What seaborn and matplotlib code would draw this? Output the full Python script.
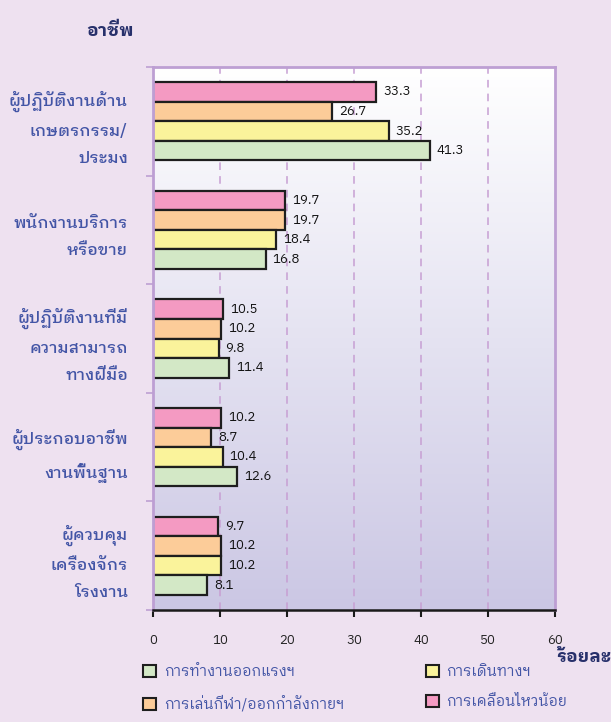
import numpy as np
import pandas as pd
import seaborn as sns
import matplotlib
matplotlib.use("Agg")
import matplotlib.pyplot as plt
from matplotlib.patches import Patch
from matplotlib.colors import LinearSegmentedColormap

# data (percent)
occupations = ['ผู้ปฏิบัติงานด้าน\nเกษตรกรรม/\nประมง',
               'พนักงานบริการ\nหรือขาย',
               'ผู้ปฏิบัติงานที่มี\nความสามารถ\nทางฝีมือ',
               'ผู้ประกอบอาชีพ\nงานพื้นฐาน',
               'ผู้ควบคุม\nเครื่องจักร\nโรงงาน']
activities = ['การเคลื่อนไหวน้อย', 'การเล่นกีฬา/ออกกำลังกายฯ', 'การเดินทางฯ', 'การทำงานออกแรงฯ']
sedentary = [33.3, 19.7, 10.5, 10.2, 9.7]
sport = [26.7, 19.7, 10.2, 8.7, 10.2]
travel = [35.2, 18.4, 9.8, 10.4, 10.2]
work = [41.3, 16.8, 11.4, 12.6, 8.1]
colors = ['#F49AC2', '#FCCC99', '#FAF39B', '#D3E8C6']

rows = []
for act, vals in zip(activities, [sedentary, sport, travel, work]):
    for occ, v in zip(occupations, vals):
        rows.append({'occ': occ, 'act': act, 'pct': v})
df = pd.DataFrame(rows)

sns.set_style('white')
thai = ['IBM Plex Sans Thai Looped', 'DejaVu Sans']
plt.rcParams['font.family'] = thai

bg = '#EEE1F0'
blue = '#4355A6'
navy = '#27306B'
purple = '#BD9FD3'

fig = plt.figure(figsize=(6.11, 7.22), dpi=100, facecolor=bg)
ax = fig.add_axes([0.2504, 0.1551, 0.658, 0.7521])

# gradient plot background
cmap = LinearSegmentedColormap.from_list('g', ['#FFFFFF', '#CBC7E4'])
ax.imshow(np.linspace(0, 1, 256).reshape(-1, 1), cmap=cmap, aspect='auto',
          extent=(0, 1, 0, 1), transform=ax.transAxes, zorder=0)

sns.barplot(data=df, x='pct', y='occ', hue='act', hue_order=activities,
            palette=colors, saturation=1, orient='h', width=0.72, errorbar=None,
            edgecolor='#1E1E1E', linewidth=1.6, legend=False, ax=ax, zorder=2)

for c in ax.containers:
    ax.bar_label(c, fmt='%.1f', padding=5, fontsize=9.5, color='#111111')

ax.set_xlim(0, 60)
ax.set_ylim(4.5, -0.5)
ax.set_xticks(range(0, 61, 10))
ax.set_xlabel('')
ax.set_ylabel('')

# dashed vertical grid
for x in range(10, 60, 10):
    ax.axvline(x, color='#C79FD3', lw=1.1, ls=(0, (5, 4)), zorder=1)

for s in ['top', 'left', 'right']:
    ax.spines[s].set_color(purple)
    ax.spines[s].set_linewidth(2)
ax.spines['bottom'].set_color('#1A1A1A')
ax.spines['bottom'].set_linewidth(1.8)

ax.tick_params(axis='x', bottom=True, direction='out', length=5, width=1.5,
               color='#1A1A1A', pad=12, labelsize=9.5, labelcolor='#222222')

ax.set_yticks(range(5))
ax.set_yticklabels(occupations, fontsize=11.8, color=blue, linespacing=1.85,
                   ha='right', fontweight='medium')
ax.tick_params(axis='y', which='major', length=0, pad=18)
ax.set_yticks(np.arange(-0.5, 5, 1), minor=True)
ax.tick_params(axis='y', which='minor', left=True, length=5, width=1.2,
               color=purple)

fig.text(0.18, 0.957, 'อาชีพ', fontsize=13, fontweight='bold', color=navy,
         ha='center', va='center')
fig.text(0.955, 0.09, 'ร้อยละ', fontsize=13, fontweight='bold', color=navy,
         ha='center', va='center')

handles = [Patch(facecolor=colors[3], edgecolor='#1E1E1E', lw=1.5),
           Patch(facecolor=colors[1], edgecolor='#1E1E1E', lw=1.5),
           Patch(facecolor=colors[2], edgecolor='#1E1E1E', lw=1.5),
           Patch(facecolor=colors[0], edgecolor='#1E1E1E', lw=1.5)]
labels = [activities[3], activities[1], activities[2], activities[0]]
leg = fig.legend(handles, labels, ncol=2, loc='upper left',
                 bbox_to_anchor=(0.213, 0.097), frameon=False, fontsize=10.5,
                 handlelength=0.9, handleheight=0.9, handletextpad=0.5,
                 columnspacing=5.6, labelspacing=1.1, labelcolor=blue)

fig.savefig('out.png', dpi=100, facecolor=bg)
